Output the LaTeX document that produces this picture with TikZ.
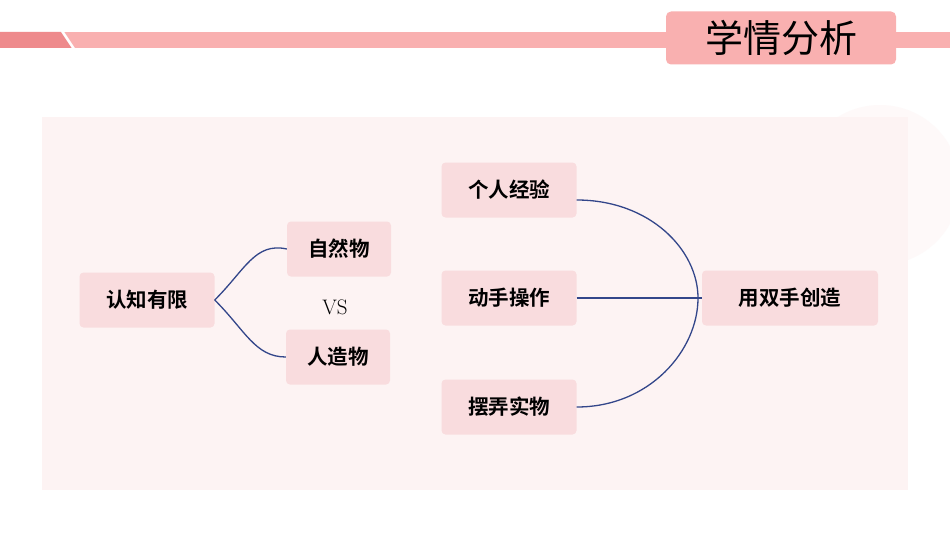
\documentclass[tikz,border=0pt]{standalone}
\usepackage{fontspec}
\newfontfamily\cjk{Noto Sans CJK SC}
\newfontfamily\cjkb{Noto Sans CJK SC Bold}
\definecolor{barpink}{HTML}{F9B0B0}
\definecolor{bardark}{HTML}{EE8A8C}
\definecolor{panelpink}{HTML}{FDF3F3}
\definecolor{boxpink}{HTML}{F9DCDE}
\definecolor{linkblue}{HTML}{33468A}
\usetikzlibrary{positioning}

\begin{document}
\begin{tikzpicture}[x=1pt,y=-1pt,
	tbox/.style={rounded corners=4pt,fill=boxpink,minimum height=55pt,inner xsep=8pt,font=\cjkb\fontsize{20.5}{20.5}\selectfont},
	link/.style={linkblue,line width=1.3pt}]
	\useasboundingbox (0,0) rectangle (950,535);
	% background
	\fill[white] (0,0) rectangle (950,535);
	\fill[barpink] (0,32) rectangle (950,48);
	\fill[bardark] (0,32) -- (62,32) -- (72,48) -- (0,48) -- cycle;
	\draw[white,line width=2.5pt] (62,31) -- (74,49);
	\fill[panelpink!50] (880,185) circle (80);
	\fill[panelpink] (42,117) rectangle (908,490);
	\node[rounded corners=5pt,fill=barpink,minimum width=230pt,minimum height=53pt,font=\cjk\fontsize{38}{38}\selectfont] (title) at (781,38) {学情分析};
	% nodes
	\node[tbox,minimum width=135pt] (limit) at (147,300) {认知有限};
	\node[tbox,minimum width=104pt] (natural) at (339,249) {自然物};
	\node[tbox,minimum width=104pt] (artificial) at (338,357) {人造物};
	\node[font=\fontsize{21}{21}\selectfont] (vs) at (335,307) {VS};
	\node[tbox,minimum width=135pt] (exp) at (509,190) {个人经验};
	\node[tbox,minimum width=135pt] (hands) at (509,298) {动手操作};
	\node[tbox,minimum width=135pt] (play) at (509,407) {摆弄实物};
	\node[tbox,minimum width=176pt] (create) at (790,298) {用双手创造};
	% connectors
	\draw[link] (exp.east) ++(0,10) .. controls (650,200) and (698,250) .. (698,298) coordinate (m1);
	\draw[link] (m1) .. controls (698,350) and (650,407) .. (play.east);
	\draw[link] (limit.east) .. controls (245,270) and (255,242) .. (natural.west);
	\draw[link] (limit.east) .. controls (245,330) and (255,357) .. (artificial.west);
	\draw[link] (hands.east) -- (create.west);
\end{tikzpicture}
\end{document}
